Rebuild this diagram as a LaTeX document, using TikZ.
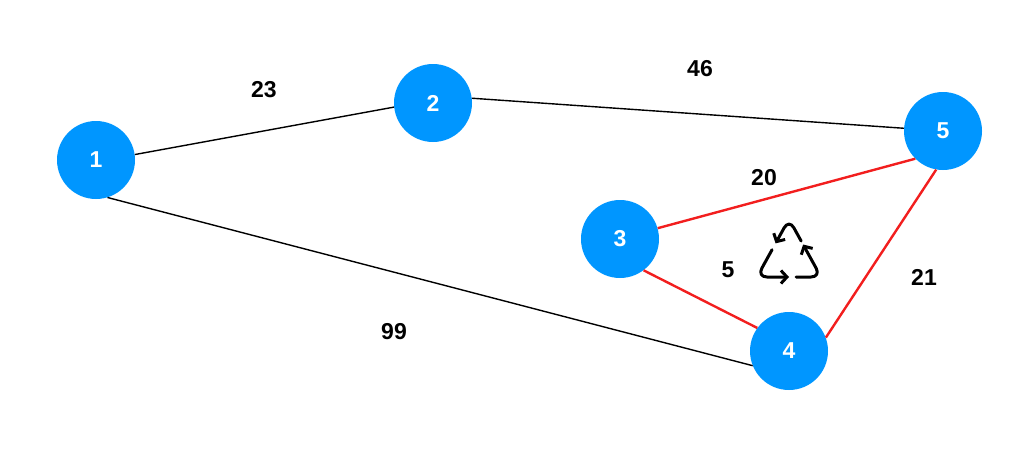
\documentclass[tikz,border=0pt]{standalone}
\usepackage{fontspec}
\setmainfont{Liberation Sans}
\usetikzlibrary{arrows.meta,calc}
\definecolor{nodeblue}{RGB}{0,150,255}
\definecolor{edgered}{RGB}{242,30,30}
\begin{document}
\begin{tikzpicture}[x=1pt,y=-1pt,
  vert/.style={circle,fill=nodeblue,minimum size=78pt,inner sep=0pt,text=white,font=\fontsize{23}{23}\selectfont\bfseries},
  wlabel/.style={font=\fontsize{23}{23}\selectfont\bfseries,text=black,inner sep=0pt},
  plainedge/.style={draw=black,line width=1.4pt},
  rededge/.style={draw=edgered,line width=2.4pt},
  recy/.style={draw=black,line width=3pt,line cap=round,line join=round,rounded corners=10pt,
    -{Straight Barb[length=6pt,width=13pt,line width=3pt]}}]
\useasboundingbox (0,0) rectangle (1033,455);
\node[vert] (n1) at (96,160) {1};
\node[vert] (n2) at (433,103) {2};
\node[vert] (n3) at (620,239) {3};
\node[vert] (n4) at (789,351) {4};
\node[vert] (n5) at (943,131) {5};
\draw[plainedge] (n1.8) -- (n2.186);
\draw[plainedge] (n2.7) -- (n5.176);
\draw[plainedge] (n1.287) -- (n4.202);
\draw[rededge] (n3.16) -- (n5.225);
\draw[rededge] (n3.307) -- (n4.144);
\draw[rededge] (n4.20) -- (n5.260);
\node[wlabel] (w23) at (264,90) {23};
\node[wlabel] (w46) at (700,69) {46};
\node[wlabel] (w20) at (764,178) {20};
\node[wlabel] (w5) at (728,270) {5};
\node[wlabel] (w21) at (924,277) {21};
\node[wlabel] (w99) at (394,332) {99};
% recycle icon
\coordinate (rT) at (789,219);
\coordinate (rL) at (757,277);
\coordinate (rR) at (821,277);
\draw[recy] ($(rT)!0.38!(rR)$) -- (rT) -- ($(rT)!0.42!(rL)$);
\draw[recy] ($(rT)!0.53!(rL)$) -- (rL) -- ($(rL)!0.50!(rR)$);
\draw[recy] ($(rL)!0.61!(rR)$) -- (rR) -- ($(rR)!0.56!(rT)$);
\end{tikzpicture}
\end{document}
